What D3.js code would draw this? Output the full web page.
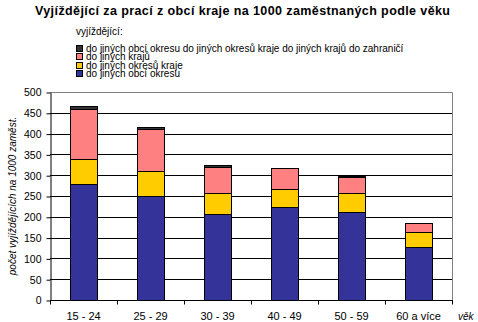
<!DOCTYPE html>
<html><head><meta charset="utf-8">
<script src="https://cdn.jsdelivr.net/npm/d3@7/dist/d3.min.js"></script>
<style>body{margin:0;background:#fff}svg{display:block}text{font-family:"Liberation Sans",Arial,sans-serif}</style>
</head><body>
<svg id="c" width="478" height="322"></svg>
<script>
const categories = ["15 - 24","25 - 29","30 - 39","40 - 49","50 - 59","60 a více"];
const obciOkresu = [279, 249, 207, 224, 212, 128];
const okresuKraje = [61, 60, 51, 44, 46, 35];
const jinychKraju = [120, 101, 61, 49, 37, 22];
const vse = [7, 5, 6, 1, 3, 0];
const seriesNames = ["do jiných obcí okresu","do jiných okresů kraje","do jiných krajů","do jiných obcí okresu do jiných okresů kraje do jiných krajů do zahraničí"];
const seriesColors = ["#333399","#FFCC00","#FF8080","#333333"];
const yTicks = [0,50,100,150,200,250,300,350,400,450,500];

const svg = d3.select("#c");
const L=50, R=452, T=92, B=300;
const x = d3.scaleBand().domain(categories).range([L,R]).paddingInner(0.6).paddingOuter(0.3);
const y = d3.scaleLinear().domain([0,500]).range([B,T]);
const px = v => Math.round(y(v))+0.5;

// title
svg.append("text").attr("x",35).attr("y",15).attr("font-size",12.5).attr("font-weight","bold")
  .attr("textLength",415).attr("lengthAdjust","spacing")
  .text("Vyjíždějící za prací z obcí kraje na 1000 zaměstnaných podle věku");

// legend
svg.append("text").attr("x",76).attr("y",35).attr("font-size",10).text("vyjíždějící:");
const legOrder = [3,2,1,0];
legOrder.forEach((si,i)=>{
  const yy = Math.round(44.5 + i*8.5);
  svg.append("rect").attr("x",76.5).attr("y",yy+0.5).attr("width",6).attr("height",6)
    .attr("fill",seriesColors[si]).attr("stroke","#000").attr("stroke-width",1);
  svg.append("text").attr("x",86).attr("y",yy+7).attr("font-size",10).text(seriesNames[si]);
});

// gridlines
svg.append("g").selectAll("line").data(yTicks.filter(v=>v>0 && v<500)).join("line")
  .attr("x1",L).attr("x2",R).attr("y1",px).attr("y2",px).attr("stroke","#000").attr("stroke-width",1);
// plot border top/right gray
svg.append("line").attr("x1",L).attr("x2",R+0.5).attr("y1",px(500)).attr("y2",px(500)).attr("stroke","#808080");
svg.append("line").attr("x1",R+0.5).attr("x2",R+0.5).attr("y1",px(500)).attr("y2",px(0)).attr("stroke","#808080");

// bars
const stackData = categories.map((c,i)=>({cat:c, a:obciOkresu[i], b:okresuKraje[i], c2:jinychKraju[i], d:vse[i]}));
const stack = d3.stack().keys(["a","b","c2","d"])(stackData);
const gBars = svg.append("g");
stack.forEach((s,si)=>{
  gBars.selectAll(null).data(s.filter(d=>d[1]-d[0]>0)).join("rect")
    .attr("x",d=>Math.round(x(d.data.cat))+0.5)
    .attr("width",Math.round(x.bandwidth()))
    .attr("y",d=>Math.round(y(d[1]))+0.5)
    .attr("height",d=>Math.round(y(d[0]))-Math.round(y(d[1])))
    .attr("fill",seriesColors[si]).attr("stroke","#000").attr("stroke-width",1);
});

// y axis
const yAxis = d3.axisLeft(y).tickValues(yTicks).tickSize(4).tickSizeOuter(0).tickPadding(5);
const gy = svg.append("g").attr("transform",`translate(${L+0.5},0.5)`).call(yAxis);
gy.select(".domain").attr("stroke","#000");
gy.selectAll("text").attr("font-size",10.5).attr("font-family","Liberation Sans, Arial").attr("fill","#000");

// x axis
svg.append("line").attr("x1",L).attr("x2",R+1).attr("y1",px(0)).attr("y2",px(0)).attr("stroke","#000");
const step = (R-L)/categories.length;
svg.append("g").selectAll("line").data(d3.range(categories.length+1)).join("line")
  .attr("x1",i=>Math.round(L+i*step)+0.5).attr("x2",i=>Math.round(L+i*step)+0.5)
  .attr("y1",px(0)).attr("y2",px(0)+4).attr("stroke","#000");
svg.append("g").selectAll("text").data(categories).join("text")
  .attr("x",d=>x(d)+x.bandwidth()/2).attr("y",320).attr("text-anchor","middle")
  .attr("font-size",11).text(d=>d);
svg.append("text").attr("x",458).attr("y",320).attr("font-size",10).attr("font-style","italic").text("věk");

// y title
svg.append("text").attr("transform",`translate(16,196) rotate(-90)`).attr("text-anchor","middle")
  .attr("font-size",10).attr("font-style","italic").text("počet vyjíždějících na 1000 zaměst.");
</script>
</body></html>
